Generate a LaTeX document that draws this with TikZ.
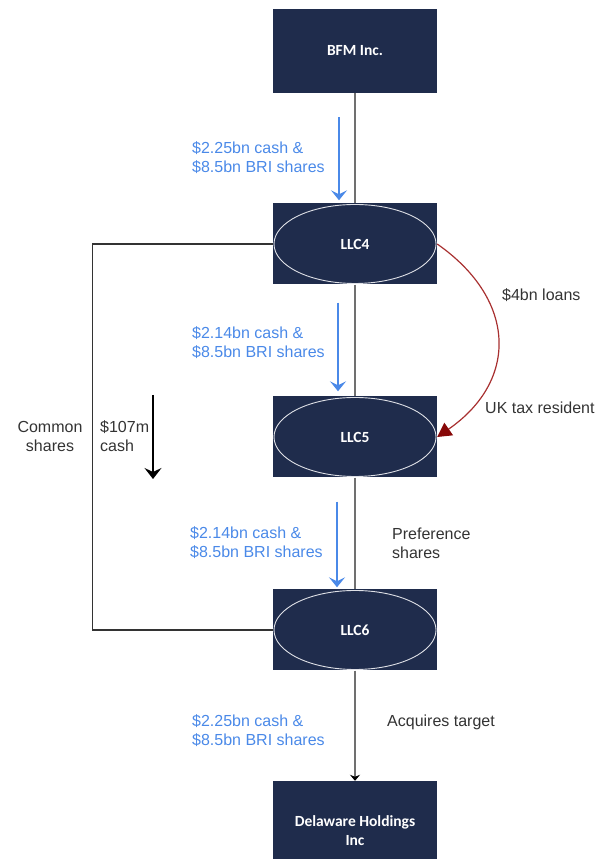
\documentclass[tikz,border=0pt]{standalone}
\usepackage{fontspec}
\setmainfont{Liberation Sans}
\newfontfamily\boxfont{Carlito}
\usepackage{tikz}
\usetikzlibrary{shapes.geometric, arrows, arrows.meta}
\definecolor{navy}{RGB}{31,44,76}
\definecolor{flowblue}{RGB}{74,137,232}
\definecolor{loanred}{RGB}{168,48,48}
\definecolor{tipred}{RGB}{135,8,8}
\definecolor{labelgray}{RGB}{51,51,51}
\definecolor{linegray}{RGB}{112,112,112}
\definecolor{ringgray}{RGB}{222,224,230}
\tikzstyle{company} = [rectangle, minimum width=164pt, minimum height=81pt, text centered, align=center, inner sep=0pt, fill=navy, text=white, font=\boxfont\bfseries\fontsize{15.5}{19}\selectfont]
\tikzstyle{llc} = [company, path picture={\draw[ringgray, line width=0.9pt] (path picture bounding box.center) ellipse (81pt and 39.5pt);}]
\tikzstyle{note} = [anchor=west, align=left, inner sep=0pt, text=labelgray, font=\fontsize{16}{19}\selectfont]
\tikzstyle{money} = [note, text=flowblue]
\tikzstyle{trunk} = [line width=1.4pt, draw=linegray]
\tikzstyle{flow} = [line width=1.2pt, draw=flowblue, -{Stealth[length=10pt, width=16pt, inset=4pt, color=flowblue]}]
\tikzstyle{loan} = [line width=1.2pt, draw=loanred, -{Triangle[length=14pt, width=15pt, color=tipred]}]
\tikzstyle{share} = [line width=1.2pt, draw=black!80]
\tikzstyle{arrow} = [line width=1.3pt, ->, >=stealth]

\begin{document}
\begin{tikzpicture}[node distance=193pt, auto]
	\useasboundingbox (0pt,0pt) rectangle (606pt,859pt);
	\node(bfm) [company, minimum height=84pt] at (355pt,808pt) {BFM Inc.};
	\node(llc4) [llc, below of=bfm] {LLC4};
	\node(llc5) [llc, below of=llc4] {LLC5};
	\node(llc6) [llc, below of=llc5] {LLC6};
	\node(dela) [company, below of=llc6, yshift=-8pt, minimum height=100pt] {Delaware Holdings\\Inc};
	
	\draw[trunk] (bfm) -- (llc4);
	\draw[trunk] (llc4) -- (llc5);
	\draw[trunk] (llc5) -- (llc6);
	\draw[trunk, -{Stealth[length=6pt, width=10pt, inset=2pt, color=black]}] (llc6) -- (dela);
	
	%----------------------------------------------------%
	\coordinate (f1s) at ([xshift=-16pt, yshift=-24pt]bfm.south);
	\coordinate (f1e) at ([xshift=-16pt, yshift=3pt]llc4.north);
	\coordinate (f2s) at ([xshift=-17pt, yshift=-18pt]llc4.south);
	\coordinate (f2e) at ([xshift=-17pt, yshift=5pt]llc5.north);
	\coordinate (f3s) at ([xshift=-18pt, yshift=-24pt]llc5.south);
	\coordinate (f3e) at ([xshift=-18pt, yshift=2pt]llc6.north);
	
	\node(cash1) [money] at (192pt,701pt) {\$2.25bn cash \&\\\$8.5bn BRI shares};
	\node(cash2) [money] at (192pt,516pt) {\$2.14bn cash \&\\\$8.5bn BRI shares};
	\node(cash3) [money] at (190pt,316pt) {\$2.14bn cash \&\\\$8.5bn BRI shares};
	\node(cash4) [money] at (192pt,128pt) {\$2.25bn cash \&\\\$8.5bn BRI shares};
	
	\draw[flow] (f1s) -- (f1e);
	\draw[flow] (f2s) -- (f2e);
	\draw[flow] (f3s) -- (f3e);
	
	%----------------------------------------------------%
	\draw[share] (llc4.west) -- ++(-180pt,0) |- (llc6.west);
	\node(common) [note, anchor=center, align=center] at (50pt,423pt) {Common\\shares};
	\node(small) [note] at (100pt,423pt) {\$107m\\cash};
	\coordinate (c1) at (153pt,464pt);
	\coordinate (c2) at (153pt,380pt);
	\draw[line width=1.2pt, -{Stealth[length=11pt, width=17pt, inset=4pt]}] (c1) -- (c2);
	
	%----------------------------------------------------%
	\draw[loan] (llc4.east) .. controls ([shift={(80pt,-56pt)}]llc4.east) and ([shift={(81pt,56pt)}]llc5.east) .. (llc5.east);
	\node(loans) [note] at (502pt,564pt) {\$4bn loans};
	\node(uktax) [note] at (485pt,451pt) {UK tax resident};
	\node(pref) [note] at (392pt,316pt) {Preference\\shares};
	\node(acq) [note] at (387pt,137pt) {Acquires target};
\end{tikzpicture}
\end{document}
